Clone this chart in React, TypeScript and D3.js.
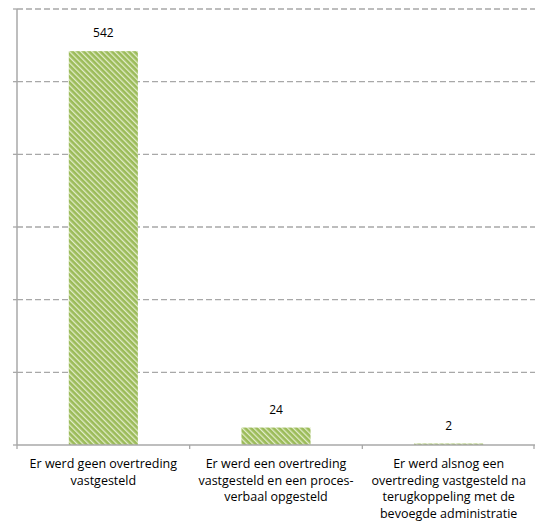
import React from "react";
import * as d3 from "d3";

const categories = [
  "Er werd geen overtreding vastgesteld",
  "Er werd een overtreding vastgesteld en een proces-verbaal opgesteld",
  "Er werd alsnog een overtreding vastgesteld na terugkoppeling met de bevoegde administratie",
];
const categoryLines = [
  ["Er werd geen overtreding", "vastgesteld"],
  ["Er werd een overtreding", "vastgesteld en een proces-", "verbaal opgesteld"],
  ["Er werd alsnog een", "overtreding vastgesteld na", "terugkoppeling met de", "bevoegde administratie"],
];
const values = [542, 24, 2];
const yTicks = [0, 100, 200, 300, 400, 500, 600];

const W = 535;
const H = 523;
const margin = { left: 17, right: 0, top: 9, bottom: 78 };

export default function App() {
  const x = d3
    .scaleBand<string>()
    .domain(categories)
    .range([margin.left, W - margin.right])
    .paddingInner(0.6)
    .paddingOuter(0.3);
  const band = d3.scaleBand<string>().domain(categories).range([margin.left, W - margin.right]);
  const y = d3.scaleLinear().domain([0, 600]).range([H - margin.bottom, margin.top]);
  const base = y(0);
  const font = "'Open Sans', sans-serif";
  const grid = "#a8a8a8";
  return (
    <svg
      width={W}
      height={H}
      style={{ position: "absolute", left: 0, top: 0, background: "#fff" }}
    >
      <defs>
        <pattern id="diag" patternUnits="userSpaceOnUse" width="4" height="4" patternTransform="rotate(-45)">
          <rect width="4" height="4" fill="#9bbb59" />
          <rect x="0" y="0" width="1.3" height="4" fill="#e2ecc9" />
        </pattern>
      </defs>
      {yTicks.slice(1).map((t) => (
        <line
          key={t}
          x1={margin.left}
          x2={W}
          y1={y(t)}
          y2={y(t)}
          stroke={grid}
          strokeWidth={1.3}
          strokeDasharray="6,3"
        />
      ))}
      {yTicks.map((t) => (
        <line key={"t" + t} x1={margin.left - 4} x2={margin.left} y1={y(t)} y2={y(t)} stroke={grid} strokeWidth={1.3} />
      ))}
      <line x1={margin.left} x2={margin.left} y1={y(600)} y2={base} stroke={grid} strokeWidth={1.5} />
      {values.map((v, i) => (
        <rect
          key={i}
          x={x(categories[i])}
          width={x.bandwidth()}
          y={y(v)}
          height={base - y(v)}
          fill="url(#diag)"
        />
      ))}
      <line x1={margin.left} x2={W} y1={base} y2={base} stroke={grid} strokeWidth={1.5} />
      {[...categories.map((c) => band(c) as number), W - 1].map((px, i) => (
        <line key={"xt" + i} x1={px} x2={px} y1={base} y2={base + 4} stroke={grid} strokeWidth={1.3} />
      ))}
      {values.map((v, i) => (
        <text
          key={"v" + i}
          x={(x(categories[i]) as number) + x.bandwidth() / 2}
          y={y(v) - 14}
          textAnchor="middle"
          fontFamily={font}
          fontSize={12}
          fill="#000"
        >
          {v}
        </text>
      ))}
      {categoryLines.map((lines, i) => (
        <text
          key={"c" + i}
          x={(band(categories[i]) as number) + band.bandwidth() / 2}
          y={base + 23}
          textAnchor="middle"
          fontFamily={font}
          fontSize={12.5}
          fill="#000"
        >
          {lines.map((l, j) => (
            <tspan key={j} x={(band(categories[i]) as number) + band.bandwidth() / 2} dy={j === 0 ? 0 : 16.5}>
              {l}
            </tspan>
          ))}
        </text>
      ))}
    </svg>
  );
}
